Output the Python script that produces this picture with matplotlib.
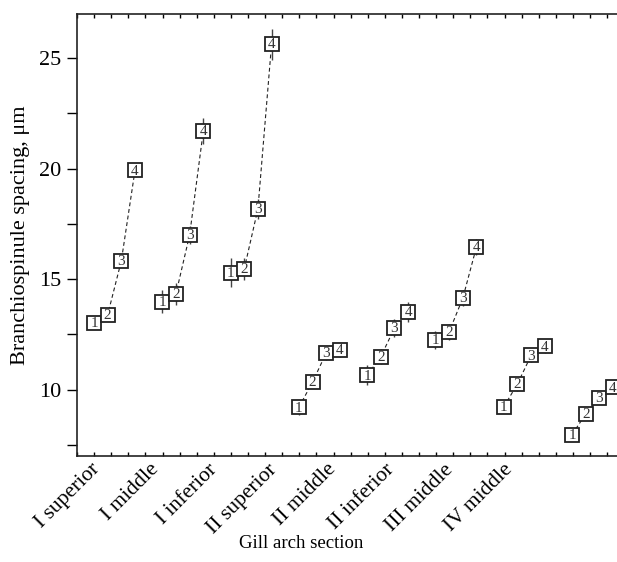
import numpy as np
import matplotlib
matplotlib.use("Agg")
import matplotlib.pyplot as plt

plt.rcParams['font.family'] = ['Liberation Serif', 'DejaVu Serif']

# gill arch sections and mean spacing (um) for the four measured positions in each
sections = ["I superior", "I middle", "I inferior", "II superior",
            "II middle", "II inferior", "III middle", "IV middle"]
point_ids = ["1", "2", "3", "4"]

spacing = [
    [13.03, 13.39, 15.83, 19.92],
    [13.99, 14.34, 17.00, 21.70],
    [15.30, 15.47, 18.18, 25.63],
    [9.20, 10.35, 11.66, 11.80],
    [10.65, 11.50, 12.79, 13.52],
    [12.26, 12.62, 14.14, 16.46],
    [9.22, 10.26, 11.55, 11.96],
    [7.97, 8.90, 9.62, 10.10],
]
spacing_err = [
    [0.15, 0.20, 0.20, 0.25],
    [0.50, 0.50, 0.40, 0.60],
    [0.65, 0.50, 0.45, 0.70],
    [0.35, 0.25, 0.30, 0.30],
    [0.45, 0.35, 0.40, 0.45],
    [0.40, 0.35, 0.35, 0.35],
    [0.25, 0.30, 0.30, 0.30],
    [0.10, 0.15, 0.15, 0.20],
]

fig = plt.figure(figsize=(6.17, 5.62), dpi=100)
ax = fig.add_axes([0.1248, 0.1886, 0.8752, 0.7865])

for g, (vals, errs) in enumerate(zip(spacing, spacing_err)):
    xs = g * 5 + np.arange(len(vals))
    ax.plot(xs, vals, ls=(0, (3.5, 2.5)), lw=0.8, color='#222222', zorder=1)
    ax.errorbar(xs, vals, yerr=errs, fmt='none', ecolor='#444444',
                elinewidth=1.0, capsize=0, zorder=2)
    ax.plot(xs, vals, ls='none', marker='s', ms=10, mfc='white',
            mec='#222222', mew=1.3, zorder=3)
    for x, v, lab in zip(xs, vals, point_ids):
        ax.text(x, v - 0.03, lab, ha='center', va='center', fontsize=11,
                color='#333333', zorder=4)

xmin, xmax = -1.245, 38.29
ax.set_xlim(xmin, xmax)
ax.set_ylim(7, 27)

ax.set_yticks([10, 15, 20, 25])
ax.set_yticks([7.5, 12.5, 17.5, 22.5], minor=True)
ax.tick_params(axis='y', which='major', direction='out', length=7.5,
               width=1.0, labelsize=16, pad=4)
ax.tick_params(axis='y', which='minor', direction='out', length=7.5, width=1.0)

label_pos = np.linspace(-0.29, 29.95, len(sections))
ax.set_xticks(label_pos)
ax.set_xticklabels(sections, rotation=45, ha='right', rotation_mode='anchor',
                   fontsize=15.5)
ax.set_xticks(np.arange(xmin, xmax, 1.252), minor=True)
ax.tick_params(axis='x', which='major', length=0, pad=3)
ax.tick_params(axis='x', which='minor', direction='in', length=3,
               width=1.0, top=True, bottom=True)

for side in ['left', 'bottom', 'top']:
    ax.spines[side].set_linewidth(1.2)
    ax.spines[side].set_color('#222222')
ax.spines['right'].set_visible(False)

ax.set_ylabel("Branchiospinule spacing, μm", fontsize=16, va='center')
ax.yaxis.set_label_coords(-0.105, 0.5)
ax.set_xlabel("Gill arch section", fontsize=13.5, va='center')
ax.xaxis.set_label_coords(0.415, -0.198)

fig.savefig("out.png", dpi=100)
